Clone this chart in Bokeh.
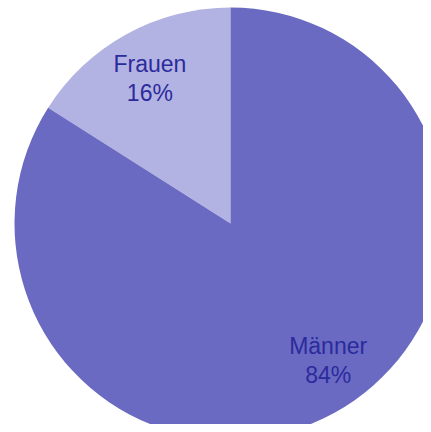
import math
from bokeh.plotting import figure
from bokeh.models import Range1d, ColumnDataSource
from bokeh.core.properties import value
from bokeh.embed import file_html
from bokeh.resources import INLINE

categories = ["Frauen", "Männer"]
shares = [16, 84]
colors = ["#b3b3e3", "#6a6ac3"]

W, H = 423, 424
p = figure(width=W, height=H, output_backend="svg", toolbar_location=None,
           x_range=Range1d(0, W), y_range=Range1d(0, H), min_border=0)
p.axis.visible = False
p.grid.visible = False
p.outline_line_color = None
p.background_fill_color = "white"
p.border_fill_color = "white"

cx, cy, R = 230, 201, 216
total = sum(shares)
starts, ends, mids = [], [], []
a = math.pi / 2
for s in shares:
    span = 2 * math.pi * s / total
    starts.append(a)
    ends.append(a + span)
    mids.append(a + span / 2)
    a += span

src = ColumnDataSource(dict(start=starts, end=ends, color=colors))
p.wedge(x=cx, y=cy, radius=R, start_angle="start", end_angle="end",
        fill_color="color", line_color=None, source=src)

label_r = 0.775 * R
nudge_x = [0, 17]
nudge_y = [-2, 10]
lx = [cx + label_r * math.cos(m) + nx for m, nx in zip(mids, nudge_x)]
ly = [cy + label_r * math.sin(m) + ny for m, ny in zip(mids, nudge_y)]
pct = [f"{s}%" for s in shares]
lsrc = ColumnDataSource(dict(x=lx, y=ly, name=categories, pct=pct))
common = dict(x="x", y="y", source=lsrc, text_align="center", text_baseline="middle",
              text_font=value("Liberation Sans"), text_font_size="23px", text_color="#2b2b9c")
p.text(text="name", y_offset=-14.5, **common)
p.text(text="pct", y_offset=14.5, **common)

open("out.html", "w").write(file_html(p, INLINE))
